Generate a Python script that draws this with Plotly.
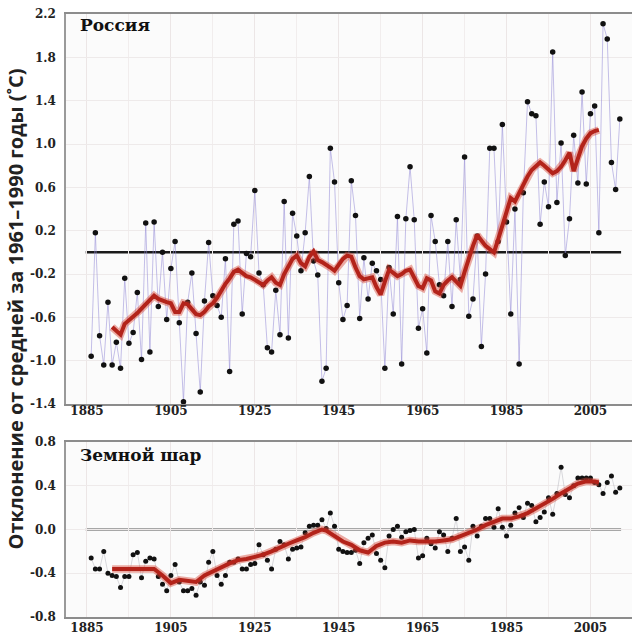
import plotly.graph_objects as go

# ---------------- data ----------------
years = list(range(1886, 2013))

russia = [
    -0.96, 0.18, -0.77, -1.04, -0.46, -1.04, -0.83, -1.07, -0.24, -0.84,   # 1886-1895
    -0.74, -0.37, -0.99, 0.27, -0.92, 0.28, -0.50, 0.00, -0.62, -0.15,     # 1896-1905
    0.10, -0.65, -1.38, -0.46, -0.19, -0.75, -1.29, -0.45, 0.09, -0.40,    # 1906-1915
    -0.49, -0.60, -0.06, -1.10, 0.26, 0.29, -0.57, -0.01, -0.04, 0.57,     # 1916-1925
    -0.19, -0.30, -0.88, -0.92, -0.35, -0.76, 0.47, -0.79, 0.36, 0.15,     # 1926-1935
    -0.17, 0.18, 0.70, -0.08, -0.21, -1.19, -1.07, 0.96, 0.65, -0.28,      # 1936-1945
    -0.62, -0.49, 0.66, 0.34, -0.61, -0.05, -0.43, -0.10, -0.17, -0.25,    # 1946-1955
    -1.07, -0.14, -0.57, 0.33, -1.03, 0.31, 0.79, 0.30, -0.70, -0.52,      # 1956-1965
    -0.93, 0.34, 0.10, -0.30, -0.40, 0.10, -0.50, 0.30, -0.25, 0.88,       # 1966-1975
    -0.59, -0.43, 0.15, -0.87, -0.20, 0.96, 0.96, 0.10, 1.18, 0.28,        # 1976-1985
    -0.57, 0.40, -1.03, 0.55, 1.39, 1.28, 1.26, 0.26, 0.65, 0.42,          # 1986-1995
    1.85, 0.46, 1.01, -0.03, 0.31, 1.08, 0.64, 1.48, 0.63, 1.28,           # 1996-2005
    1.35, 0.18, 2.11, 1.97, 0.83, 0.58, 1.23,                              # 2006-2012
]

globe = [
    -0.26, -0.36, -0.36, -0.20, -0.40, -0.42, -0.43, -0.53, -0.43, -0.43,  # 1886-1895
    -0.23, -0.21, -0.44, -0.29, -0.26, -0.27, -0.43, -0.50, -0.56, -0.42,  # 1896-1905
    -0.32, -0.48, -0.56, -0.56, -0.54, -0.60, -0.48, -0.51, -0.30, -0.20,  # 1906-1915
    -0.42, -0.50, -0.42, -0.30, -0.30, -0.27, -0.36, -0.36, -0.32, -0.31,  # 1916-1925
    -0.14, -0.23, -0.28, -0.36, -0.18, -0.11, -0.14, -0.27, -0.18, -0.17,  # 1926-1935
    -0.16, -0.03, 0.03, 0.04, 0.04, 0.09, 0.01, 0.15, 0.03, -0.18,         # 1936-1945
    -0.20, -0.21, -0.21, -0.19, -0.31, -0.12, -0.08, -0.05, -0.22, -0.28,  # 1946-1955
    -0.35, -0.06, 0.00, 0.03, -0.07, -0.02, -0.01, 0.00, -0.26, -0.24,     # 1956-1965
    -0.08, -0.13, -0.17, -0.02, -0.05, -0.20, -0.08, 0.10, -0.20, -0.16,   # 1966-1975
    -0.28, 0.03, -0.06, 0.03, 0.10, 0.10, 0.02, 0.19, 0.02, -0.06,         # 1976-1985
    0.04, 0.15, 0.20, 0.11, 0.24, 0.22, 0.07, 0.11, 0.16, 0.29,            # 1986-1995
    0.14, 0.33, 0.57, 0.32, 0.29, 0.40, 0.47, 0.47, 0.47, 0.47,            # 1996-2005
    0.43, 0.41, 0.33, 0.43, 0.49, 0.34, 0.38,                              # 2006-2012
]

russia_trend_years = list(range(1891, 2008))
russia_trend = [
    -0.69, -0.72, -0.76, -0.66, -0.63, -0.60, -0.56, -0.52, -0.48, -0.44,  # 1891-1900
    -0.40, -0.43, -0.45, -0.46, -0.47, -0.55, -0.55, -0.47, -0.48, -0.53,  # 1901-1910
    -0.57, -0.58, -0.55, -0.50, -0.47, -0.42, -0.35, -0.29, -0.24, -0.18,  # 1911-1920
    -0.16, -0.19, -0.22, -0.23, -0.25, -0.28, -0.30, -0.26, -0.23, -0.28,  # 1921-1930
    -0.30, -0.20, -0.12, -0.06, -0.03, -0.10, -0.13, -0.04, 0.01, -0.07,   # 1931-1940
    -0.09, -0.11, -0.14, -0.17, -0.12, -0.06, -0.03, -0.04, -0.14, -0.22,  # 1941-1950
    -0.25, -0.24, -0.23, -0.32, -0.39, -0.27, -0.16, -0.19, -0.22, -0.20,  # 1951-1960
    -0.17, -0.16, -0.24, -0.31, -0.33, -0.24, -0.26, -0.36, -0.38, -0.30,  # 1961-1970
    -0.26, -0.23, -0.27, -0.31, -0.18, -0.05, 0.06, 0.16, 0.11, 0.06,      # 1971-1980
    0.03, 0.00, 0.12, 0.25, 0.39, 0.50, 0.47, 0.55, 0.63, 0.70,            # 1981-1990
    0.76, 0.80, 0.83, 0.80, 0.76, 0.73, 0.75, 0.79, 0.85, 0.92,            # 1991-2000
    0.75, 0.88, 0.98, 1.05, 1.10, 1.12, 1.13,                              # 2001-2007
]

globe_trend_years = [1891, 1893, 1895, 1897, 1899, 1901, 1903, 1905, 1907, 1909,
                     1911, 1913, 1915, 1917, 1919, 1921, 1923, 1925, 1927, 1929,
                     1931, 1933, 1935, 1937, 1939, 1941, 1942, 1944, 1946, 1948,
                     1950, 1952, 1954, 1956, 1958, 1960, 1962, 1964, 1966, 1968,
                     1970, 1972, 1974, 1976, 1978, 1980, 1982, 1984, 1986, 1988,
                     1990, 1992, 1994, 1996, 1998, 2000, 2002, 2004, 2006, 2007]
globe_trend = [-0.36, -0.36, -0.36, -0.36, -0.36, -0.36, -0.42, -0.49, -0.46, -0.47,
               -0.48, -0.42, -0.38, -0.35, -0.31, -0.28, -0.27, -0.25, -0.23, -0.20,
               -0.16, -0.13, -0.10, -0.07, -0.03, 0.00, -0.01, -0.06, -0.11, -0.14,
               -0.19, -0.21, -0.15, -0.12, -0.11, -0.12, -0.10, -0.11, -0.11, -0.11,
               -0.10, -0.09, -0.06, -0.03, 0.00, 0.04, 0.07, 0.10, 0.10, 0.12,
               0.15, 0.19, 0.23, 0.28, 0.33, 0.38, 0.42, 0.44, 0.44, 0.43]

x_tick_vals = [1885, 1905, 1925, 1945, 1965, 1985, 2005]
x_tick_text = ["1885", "1905", "1925", "1945", "1965", "1985", "2005"]
ru_tick_vals = [2.2, 1.8, 1.4, 1.0, 0.6, 0.2, -0.2, -0.6, -1.0, -1.4]
ru_tick_text = ["2.2", "1.8", "1.4", "1.0", "0.6", "0.2", "-0.2", "-0.6", "-1.0", "-1.4"]
gl_tick_vals = [0.8, 0.4, 0.0, -0.4, -0.8]
gl_tick_text = ["0.8", "0.4", "0.0", "-0.4", "-0.8"]

title_ru = "Россия"
title_gl = "Земной шар"
y_title = "Отклонение от средней за 1961–1990 годы (˚C)"


def bold(labels):
    return ["<b>" + t + "</b>" for t in labels]


# ---------------- figure ----------------
fig = go.Figure()

dot_color = "#111111"
thin_ru = "rgba(150,140,215,0.55)"
thin_gl = "rgba(150,150,160,0.35)"
red_halo = "rgba(215,70,55,0.45)"
red_core = "#b3231a"

# Russia panel
fig.add_trace(go.Scatter(x=years, y=russia, mode="lines", line=dict(color=thin_ru, width=1),
                         xaxis="x", yaxis="y", hoverinfo="skip", showlegend=False))
fig.add_trace(go.Scatter(x=years, y=russia, mode="markers",
                         marker=dict(color=dot_color, size=5.5, line=dict(width=0)),
                         xaxis="x", yaxis="y", showlegend=False))
fig.add_trace(go.Scatter(x=russia_trend_years, y=russia_trend, mode="lines",
                         line=dict(color=red_halo, width=7.5), xaxis="x", yaxis="y",
                         hoverinfo="skip", showlegend=False))
fig.add_trace(go.Scatter(x=russia_trend_years, y=russia_trend, mode="lines",
                         line=dict(color=red_core, width=4), xaxis="x", yaxis="y",
                         showlegend=False))

# Global panel
fig.add_trace(go.Scatter(x=years, y=globe, mode="lines", line=dict(color=thin_gl, width=1),
                         xaxis="x2", yaxis="y2", hoverinfo="skip", showlegend=False))
fig.add_trace(go.Scatter(x=years, y=globe, mode="markers",
                         marker=dict(color=dot_color, size=5, line=dict(width=0)),
                         xaxis="x2", yaxis="y2", showlegend=False))
fig.add_trace(go.Scatter(x=globe_trend_years, y=globe_trend, mode="lines",
                         line=dict(color=red_halo, width=7.5), xaxis="x2", yaxis="y2",
                         hoverinfo="skip", showlegend=False))
fig.add_trace(go.Scatter(x=globe_trend_years, y=globe_trend, mode="lines",
                         line=dict(color=red_core, width=4), xaxis="x2", yaxis="y2",
                         showlegend=False))

# zero reference lines
fig.add_shape(type="line", xref="x", yref="y", x0=years[0] - 1.3, x1=years[-1] + 0.3,
              y0=0, y1=0, line=dict(color="#1a1a1a", width=2.5), layer="below")
fig.add_shape(type="line", xref="x2", yref="y2", x0=years[0] - 1.3, x1=years[-1] + 0.3,
              y0=0, y1=0, line=dict(color="#555555", width=2.2), layer="below")

tick_font = dict(family="DejaVu Serif", size=12, color="#222222")
x_range = [1880.0, 2014.9]


def x_axis(anchor, standoff):
    return dict(range=x_range, tickvals=x_tick_vals, ticktext=bold(x_tick_text),
                tickfont=tick_font, automargin=False,
                showline=True, linecolor="#8c8c8c", linewidth=2, mirror=True,
                ticks="", ticklabelstandoff=standoff,
                showgrid=True, gridcolor="#ece6e6", gridwidth=1,
                minor=dict(dtick=10, tick0=1885, showgrid=True, gridcolor="#f1eded",
                           gridwidth=1),
                zeroline=False, fixedrange=True, anchor=anchor, domain=[0, 1])


def y_axis(anchor, dom, rng, vals, text):
    return dict(domain=dom, anchor=anchor, range=rng, tickvals=vals, ticktext=bold(text),
                tickfont=tick_font, automargin=False,
                showline=True, linecolor="#9a9a9a", linewidth=1.5,
                ticks="outside", ticklen=6, tickcolor="rgba(0,0,0,0)",
                showgrid=True, gridcolor="#eeeaea", gridwidth=1, zeroline=False,
                fixedrange=True)


fig.update_layout(
    width=632, height=636,
    margin=dict(l=66, r=0, t=14, b=19, autoexpand=False),
    paper_bgcolor="#ffffff",
    plot_bgcolor="#fbfbfb",
    showlegend=False,
    xaxis=x_axis("y", -5),
    yaxis=y_axis("x", [0.3532, 1.0], [-1.4, 2.2], ru_tick_vals, ru_tick_text),
    xaxis2=x_axis("y2", -1),
    yaxis2=y_axis("x2", [0.0, 0.2902], [-0.8, 0.8], gl_tick_vals, gl_tick_text),
)

fig.add_annotation(text="<b>" + title_ru + "</b>", xref="paper", yref="paper", x=0.021, y=0.982,
                   xanchor="left", yanchor="middle", showarrow=False,
                   font=dict(family="DejaVu Serif", size=17, color="#111111"))
fig.add_annotation(text="<b>" + title_gl + "</b>", xref="paper", yref="paper", x=0.021, y=0.2687,
                   xanchor="left", yanchor="middle", showarrow=False,
                   font=dict(family="DejaVu Serif", size=17, color="#111111"))
fig.add_annotation(text="<b>" + y_title + "</b>", xref="paper", yref="paper", x=-0.0901, y=0.51,
                   xanchor="center", yanchor="middle", textangle=-90, showarrow=False,
                   font=dict(family="Open Sans", size=20, color="#222222"))

fig.write_html(
    "out.html",
    config={"displayModeBar": False},
    post_script="document.body.style.margin='0';document.body.style.padding='0';"
                "document.documentElement.style.margin='0';",
)
